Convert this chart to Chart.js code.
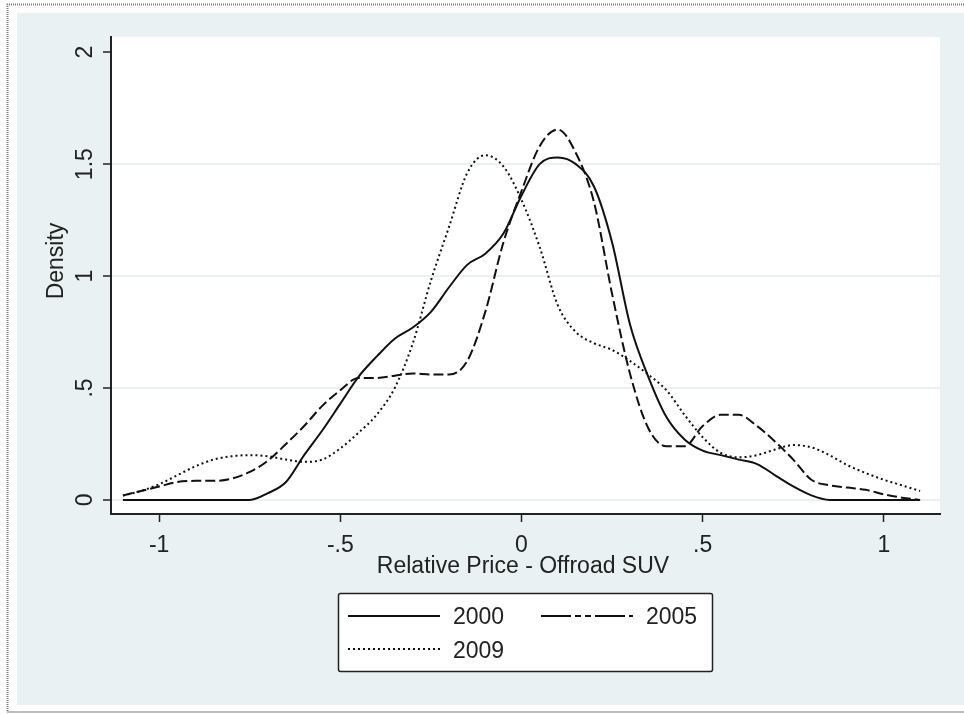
<!DOCTYPE html>
<html>
<head>
<meta charset="utf-8">
<script src="https://cdn.jsdelivr.net/npm/chart.js@4"></script>
<style>
  html, body { margin: 0; padding: 0; background: #ffffff; }
  #chart { display: block; }
</style>
</head>
<body>
<canvas id="chart" width="964" height="714"></canvas>
<script>
// Kernel density of relative price, offroad SUV segment

var xValues = [
  -1.10, -1.05, -1.00, -0.95, -0.90, -0.85, -0.80, -0.75, -0.70, -0.65,
  -0.60, -0.55, -0.50, -0.45, -0.40, -0.35, -0.30, -0.25, -0.20, -0.15,
  -0.10, -0.05, 0.00, 0.05, 0.10, 0.15, 0.20, 0.25, 0.30, 0.35,
  0.40, 0.45, 0.50, 0.55, 0.60, 0.65, 0.70, 0.75, 0.80, 0.85,
  0.90, 0.95, 1.00, 1.05, 1.10
];

var density2000 = [
  0, 0, 0, 0, 0, 0, 0, 0, 0.03, 0.08,
  0.20, 0.31, 0.43, 0.55, 0.64, 0.72, 0.77, 0.84, 0.95, 1.05,
  1.10, 1.19, 1.36, 1.50, 1.53, 1.50, 1.40, 1.15, 0.78, 0.55,
  0.37, 0.27, 0.22, 0.20, 0.18, 0.16, 0.11, 0.06, 0.02, 0,
  0, 0, 0, 0, 0
];

var density2005 = [
  0.02, 0.04, 0.06, 0.08, 0.085, 0.085, 0.095, 0.125, 0.175, 0.25,
  0.33, 0.42, 0.49, 0.545, 0.545, 0.555, 0.565, 0.56, 0.56, 0.62,
  0.84, 1.15, 1.38, 1.58, 1.655, 1.55, 1.33, 0.92, 0.56, 0.32,
  0.24, 0.24, 0.33, 0.38, 0.38, 0.33, 0.26, 0.18, 0.09, 0.065,
  0.055, 0.045, 0.025, 0.01, 0
];

var density2009 = [
  0.02, 0.04, 0.07, 0.11, 0.15, 0.18, 0.195, 0.20, 0.195, 0.18,
  0.17, 0.18, 0.23, 0.30, 0.38, 0.50, 0.70, 0.98, 1.22, 1.46,
  1.54, 1.49, 1.34, 1.13, 0.87, 0.75, 0.70, 0.67, 0.62, 0.56,
  0.49, 0.38, 0.28, 0.21, 0.19, 0.20, 0.225, 0.245, 0.235, 0.20,
  0.155, 0.12, 0.09, 0.065, 0.04
];

var seriesLabels = ['2000', '2005', '2009'];
var xTicks = [-1, -0.5, 0, 0.5, 1];
var xTickLabels = ['-1', '-.5', '0', '.5', '1'];
var yTicks = [0, 0.5, 1, 1.5, 2];
var yTickLabels = ['0', '.5', '1', '1.5', '2'];

var FONT = '23px "Liberation Sans", Arial, sans-serif';
var INK = '#222222';
var PANEL = '#e9f1f3';

function toPoints(values) {
  return values.map(function(v, i) { return { x: xValues[i], y: v }; });
}

var backgroundPlugin = {
  id: 'stataBackground',
  beforeDraw: function(chart) {
    var ctx = chart.ctx;
    var a = chart.chartArea;
    ctx.save();
    ctx.fillStyle = '#ffffff';
    ctx.fillRect(0, 0, chart.width, chart.height);
    ctx.fillStyle = PANEL;
    ctx.fillRect(17, 13, chart.width - 17, 692);
    ctx.fillStyle = '#ffffff';
    ctx.fillRect(a.left, a.top, a.right - a.left, a.bottom - a.top);
    // dotted outer frame, open on the right
    ctx.strokeStyle = '#7a7a7a';
    ctx.lineWidth = 2;
    ctx.setLineDash([1, 1]);
    ctx.beginPath();
    ctx.moveTo(chart.width, 4.5);
    ctx.lineTo(7.5, 4.5);
    ctx.lineTo(7.5, 712);
    ctx.lineTo(chart.width, 712);
    ctx.stroke();
    ctx.restore();
  }
};

var labelsPlugin = {
  id: 'stataLabels',
  afterDraw: function(chart) {
    var ctx = chart.ctx;
    var xs = chart.scales.x;
    var ys = chart.scales.y;
    ctx.save();
    ctx.font = FONT;
    ctx.fillStyle = INK;

    // x tick labels
    ctx.textAlign = 'center';
    ctx.textBaseline = 'alphabetic';
    for (var i = 0; i < xTicks.length; i++) {
      ctx.fillText(xTickLabels[i], xs.getPixelForValue(xTicks[i]), 552);
    }
    ctx.fillText('Relative Price - Offroad SUV', 523, 573);

    // y tick labels, rotated
    for (var j = 0; j < yTicks.length; j++) {
      var py = ys.getPixelForValue(yTicks[j]);
      ctx.save();
      ctx.translate(92, py);
      ctx.rotate(-Math.PI / 2);
      ctx.fillText(yTickLabels[j], 0, 0);
      ctx.restore();
    }
    ctx.save();
    ctx.translate(63, 261);
    ctx.rotate(-Math.PI / 2);
    ctx.fillText('Density', 0, 0);
    ctx.restore();

    // legend box
    ctx.fillStyle = '#ffffff';
    ctx.strokeStyle = INK;
    ctx.lineWidth = 1.5;
    ctx.beginPath();
    ctx.roundRect(338.5, 593.5, 374, 78, 2);
    ctx.fill();
    ctx.stroke();

    var slots = [
      { lx: 348, ty: 616, tx: 453, by: 624 },
      { lx: 541, ty: 616, tx: 646, by: 624 },
      { lx: 348, ty: 649, tx: 453, by: 658 }
    ];
    var ds = chart.data.datasets;
    for (var k = 0; k < ds.length; k++) {
      var s = slots[k];
      ctx.strokeStyle = ds[k].borderColor;
      ctx.lineWidth = ds[k].borderWidth;
      ctx.setLineDash(ds[k].legendDash || ds[k].borderDash || []);
      ctx.beginPath();
      ctx.moveTo(s.lx, s.ty);
      ctx.lineTo(s.lx + 92, s.ty);
      ctx.stroke();
      ctx.setLineDash([]);
      ctx.fillStyle = INK;
      ctx.textAlign = 'left';
      ctx.fillText(ds[k].label, s.tx, s.by);
    }
    ctx.restore();
  }
};

var cfg = {
  type: 'line',
  data: {
    datasets: [
      {
        label: seriesLabels[0],
        data: toPoints(density2000),
        borderColor: '#111111',
        borderWidth: 2,
        borderDash: [],
        pointRadius: 0,
        cubicInterpolationMode: 'monotone'
      },
      {
        label: seriesLabels[1],
        data: toPoints(density2005),
        borderColor: '#111111',
        borderWidth: 2,
        borderDash: [10, 4],
        legendDash: [30, 4, 6, 4, 6, 4],
        pointRadius: 0,
        cubicInterpolationMode: 'monotone'
      },
      {
        label: seriesLabels[2],
        data: toPoints(density2009),
        borderColor: '#111111',
        borderWidth: 2,
        borderDash: [2, 3],
        pointRadius: 0,
        cubicInterpolationMode: 'monotone'
      }
    ]
  },
  options: {
    responsive: false,
    animation: false,
    devicePixelRatio: 1,
    layout: { padding: { left: 0, top: 37, right: 24, bottom: 0 } },
    scales: {
      x: {
        type: 'linear',
        min: -1.133,
        max: 1.155,
        afterBuildTicks: function(scale) {
          scale.ticks = xTicks.map(function(v) { return { value: v }; });
        },
        afterFit: function(scale) { scale.height = 200; },
        ticks: { display: false },
        grid: {
          drawOnChartArea: false,
          drawTicks: true,
          tickLength: 8,
          tickWidth: 1.5,
          tickColor: INK
        },
        border: { display: true, color: INK, width: 2 }
      },
      y: {
        type: 'linear',
        min: -0.063,
        max: 2.068,
        afterBuildTicks: function(scale) {
          scale.ticks = yTicks.map(function(v) { return { value: v }; });
        },
        afterFit: function(scale) { scale.width = 111; },
        ticks: { display: false },
        grid: {
          color: function(c) { return c.tick && c.tick.value === 2 ? 'rgba(0,0,0,0)' : PANEL; },
          lineWidth: 2,
          drawTicks: true,
          tickLength: 8,
          tickWidth: 1.5,
          tickColor: INK
        },
        border: { display: true, color: INK, width: 2 }
      }
    },
    plugins: {
      legend: { display: false },
      tooltip: { enabled: false }
    }
  },
  plugins: [backgroundPlugin, labelsPlugin]
};

new Chart(document.getElementById('chart'), cfg);
</script>
</body>
</html>
